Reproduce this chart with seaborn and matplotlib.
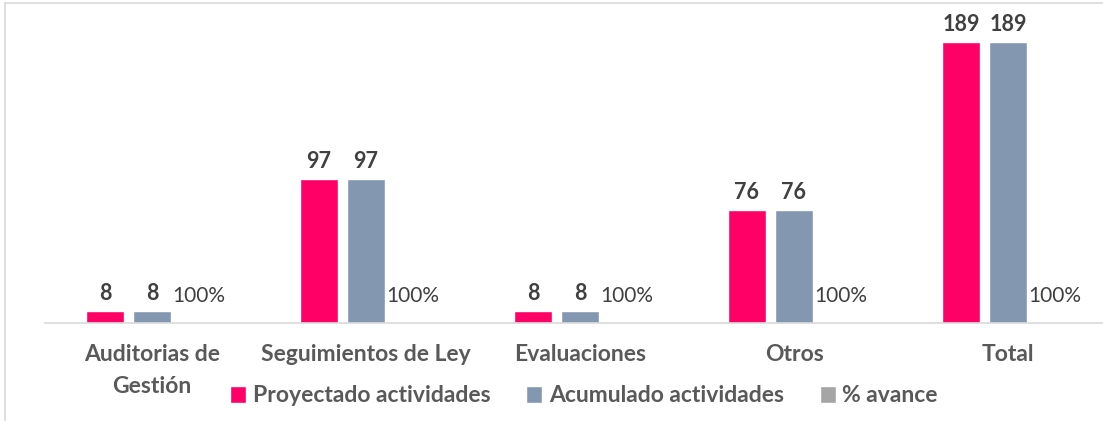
import numpy as np
import pandas as pd
import matplotlib
matplotlib.use("Agg")
import matplotlib.pyplot as plt
from matplotlib.lines import Line2D
import seaborn as sns

# data
categorias = ["Auditorias de\nGestión", "Seguimientos de Ley", "Evaluaciones", "Otros", "Total"]
proyectado = [8, 97, 8, 76, 189]
acumulado = [8, 97, 8, 76, 189]
avance = [1, 1, 1, 1, 1]          # 100% plotted on the same axis
series = ["Proyectado actividades", "Acumulado actividades", "% avance"]
colores = ["#FF0066", "#8497B0", "#A5A5A5"]

df = pd.DataFrame({
    "categoria": categorias * 3,
    "serie": [series[0]] * 5 + [series[1]] * 5 + [series[2]] * 5,
    "valor": proyectado + acumulado + avance,
})

sns.set_style("white")
plt.rcParams["font.family"] = ["Lato", "DejaVu Sans"]

fig = plt.figure(figsize=(11.03, 4.21), dpi=100)
ax = fig.add_axes([45 / 1103, 1 - 323 / 421, 1 - 45 / 1103, 308 / 421])

sns.barplot(data=df, x="categoria", y="valor", hue="serie", palette=colores,
            width=0.66, gap=0.19, saturation=1, ax=ax, order=categorias,
            hue_order=series)

ax.set_xlim(-0.5, 4.5 - 12 / 214)
ax.set_ylim(0, 189 * 308 / 281)
ax.set_xlabel("")
ax.set_ylabel("")
ax.set_yticks([])
for s in ["top", "right", "left"]:
    ax.spines[s].set_visible(False)
ax.spines["bottom"].set_color("#D9D9D9")
ax.spines["bottom"].set_linewidth(1.2)
ax.tick_params(axis="x", length=0, pad=15, labelsize=16.5, labelcolor="#595959")
for lbl in ax.get_xticklabels():
    lbl.set_fontweight("bold")
    lbl.set_linespacing(1.65)

# data labels
ax.bar_label(ax.containers[0], labels=[str(v) for v in proyectado], padding=5,
             fontsize=15.5, fontweight="bold", color="#404040")
ax.bar_label(ax.containers[1], labels=[str(v) for v in acumulado], padding=5,
             fontsize=15.5, fontweight="bold", color="#404040")
ax.bar_label(ax.containers[2], labels=[f"{v:.0%}" for v in avance], padding=11,
             fontsize=15, color="#404040")

handles, labels = ax.get_legend_handles_labels()
ax.legend_.remove()
fig.legend(handles, labels, loc="center", bbox_to_anchor=(584 / 1103, 1 - 396 / 421),
           ncol=3, frameon=False, handlelength=0.7, handleheight=0.7,
           handletextpad=0.3, columnspacing=1.55,
           prop={"size": 16.5, "weight": "bold"}, labelcolor="#595959")

# chart frame (left and top edges visible in the crop)
fig.add_artist(Line2D([5 / 1103, 5 / 1103], [0, 1 - 3 / 421], color="#D9D9D9", lw=1.2))
fig.add_artist(Line2D([5 / 1103, 1], [1 - 3 / 421, 1 - 3 / 421], color="#D9D9D9", lw=1.2))

fig.savefig("out.png", dpi=100)
